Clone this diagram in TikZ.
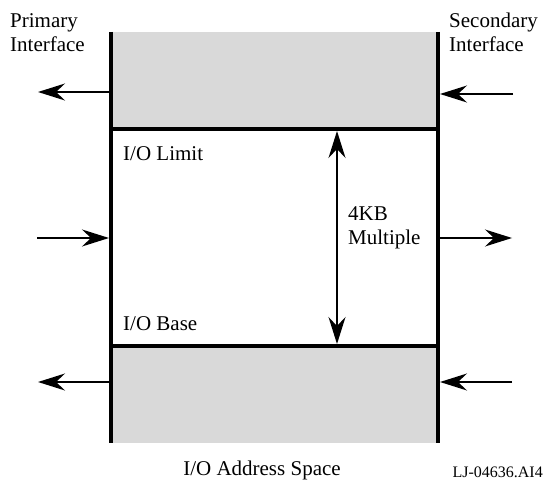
\documentclass[tikz,border=0pt]{standalone}
\usepackage{fontspec}
\setmainfont{Liberation Serif}
\usetikzlibrary{arrows.meta}
\definecolor{regiongray}{HTML}{D9D9D9}
\begin{document}
\begin{tikzpicture}[x=1pt,y=-1pt,
  wall/.style={line width=4pt},
  shade/.style={fill=regiongray},
  tip/.tip={Stealth[length=27pt,width=17pt,inset=9pt]},
  arr/.style={line width=1.4pt,-tip},
  darr/.style={line width=1.4pt,tip-tip},
  lbl/.style={font=\fontsize{21}{24.5}\selectfont, inner sep=0pt, align=left},
  small/.style={font=\fontsize{16}{19}\selectfont, inner sep=0pt},
]
\useasboundingbox (0,0) rectangle (543,494);
% regions
\fill[shade] (111,32) rectangle (438,129);
\fill[shade] (111,346) rectangle (438,443);
% walls
\coordinate (LT) at (111,32);
\coordinate (LB) at (111,443);
\coordinate (RT) at (438,32);
\coordinate (RB) at (438,443);
\coordinate (S1L) at (111,129);
\coordinate (S1R) at (438,129);
\coordinate (S2L) at (111,346);
\coordinate (S2R) at (438,346);
\draw[wall] (LT) -- (LB);
\draw[wall] (RT) -- (RB);
\draw[wall] (S1L) -- (S1R);
\draw[wall] (S2L) -- (S2R);
% arrow end points
\coordinate (a1s) at (109,92);   \coordinate (a1e) at (38,92);
\coordinate (a2s) at (513,94);   \coordinate (a2e) at (440,94);
\coordinate (a3s) at (37,238);   \coordinate (a3e) at (109,238);
\coordinate (a4s) at (440,238);  \coordinate (a4e) at (512,238);
\coordinate (a5s) at (109,382);  \coordinate (a5e) at (38,382);
\coordinate (a6s) at (512,382);  \coordinate (a6e) at (440,382);
\coordinate (dtop) at (337,131); \coordinate (dbot) at (337,344);
\draw[arr] (a1s) -- (a1e);
\draw[arr] (a2s) -- (a2e);
\draw[arr] (a3s) -- (a3e);
\draw[arr] (a4s) -- (a4e);
\draw[arr] (a5s) -- (a5e);
\draw[arr] (a6s) -- (a6e);
\draw[darr] (dtop) -- (dbot);
% labels (base anchor = baseline of the last line)
\node[lbl,anchor=base west] (prim) at (10,52) {Primary\\Interface};
\node[lbl,anchor=base west] (sec) at (449,52) {Secondary\\Interface};
\node[lbl,anchor=base west] (lim) at (123,161) {I/O Limit};
\node[lbl,anchor=base west] (mult) at (348,245) {4KB\\Multiple};
\node[lbl,anchor=base west] (base) at (123,330) {I/O Base};
\node[lbl,anchor=base] (space) at (262,475) {I/O Address Space};
\node[small,anchor=base east] (fig) at (543,477) {LJ-04636.AI4};
\end{tikzpicture}
\end{document}
